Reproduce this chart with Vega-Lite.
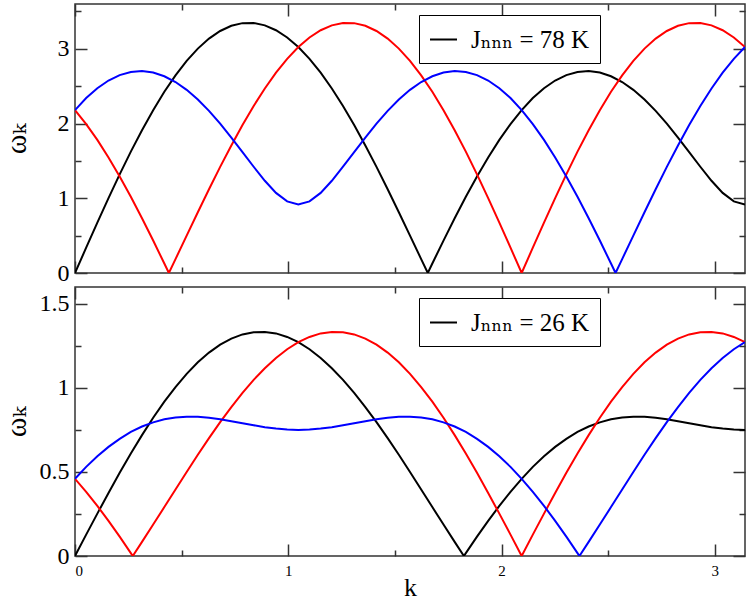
{
  "$schema": "https://vega.github.io/schema/vega-lite/v6.json",
  "padding": {"left": 0, "top": 2, "right": 3, "bottom": 0},
  "bounds": "flush",
  "config": {
    "font": "Liberation Serif, Times New Roman, DejaVu Serif, serif",
    "view": {"stroke": "#333", "strokeWidth": 1.5},
    "axis": {"grid": false, "domain": false, "tickColor": "#333", "tickWidth": 1.5, "labelColor": "#000", "titleColor": "#000", "labelFont": "Liberation Serif, Times New Roman, DejaVu Serif, serif", "titleFont": "Liberation Serif, Times New Roman, DejaVu Serif, serif", "titleFontWeight": "normal"},
    "legend": {"labelFont": "Liberation Serif, Times New Roman, DejaVu Serif, serif"},
    "concat": {"spacing": 14}
  },
  "datasets": {
    "top": [
      {"k":0,"b":0,"r":2.18,"u":2.18},
      {"k":0.05236,"b":0.339,"r":1.993,"u":2.341},
      {"k":0.10472,"b":0.674,"r":1.781,"u":2.473},
      {"k":0.15708,"b":1.002,"r":1.547,"u":2.576},
      {"k":0.20944,"b":1.32,"r":1.292,"u":2.648},
      {"k":0.2618,"b":1.624,"r":1.02,"u":2.69},
      {"k":0.31416,"b":1.911,"r":0.732,"u":2.702},
      {"k":0.36652,"b":2.179,"r":0.434,"u":2.682},
      {"k":0.41888,"b":2.425,"r":0.127,"u":2.633},
      {"k":0.44017,"r":0},
      {"k":0.47124,"b":2.645,"r":0.186,"u":2.556},
      {"k":0.5236,"b":2.839,"r":0.5,"u":2.451},
      {"k":0.57596,"b":3.003,"r":0.813,"u":2.322},
      {"k":0.62832,"b":3.137,"r":1.12,"u":2.17},
      {"k":0.68068,"b":3.239,"r":1.42,"u":1.999},
      {"k":0.73304,"b":3.308,"r":1.707,"u":1.813},
      {"k":0.7854,"b":3.344,"r":1.98,"u":1.618},
      {"k":0.83776,"b":3.346,"r":2.235,"u":1.422},
      {"k":0.89012,"b":3.314,"r":2.47,"u":1.234},
      {"k":0.94248,"b":3.249,"r":2.681,"u":1.072},
      {"k":0.99484,"b":3.152,"r":2.866,"u":0.958},
      {"k":1.0472,"b":3.024,"r":3.024,"u":0.917},
      {"k":1.09956,"b":2.866,"r":3.152,"u":0.958},
      {"k":1.15192,"b":2.681,"r":3.249,"u":1.072},
      {"k":1.20428,"b":2.47,"r":3.314,"u":1.234},
      {"k":1.25664,"b":2.235,"r":3.346,"u":1.422},
      {"k":1.309,"b":1.98,"r":3.344,"u":1.618},
      {"k":1.36136,"b":1.707,"r":3.308,"u":1.813},
      {"k":1.41372,"b":1.42,"r":3.239,"u":1.999},
      {"k":1.46608,"b":1.12,"r":3.137,"u":2.17},
      {"k":1.51844,"b":0.813,"r":3.003,"u":2.322},
      {"k":1.5708,"b":0.5,"r":2.839,"u":2.451},
      {"k":1.62316,"b":0.186,"r":2.645,"u":2.556},
      {"k":1.65423,"b":0},
      {"k":1.67552,"b":0.127,"r":2.425,"u":2.633},
      {"k":1.72788,"b":0.434,"r":2.179,"u":2.682},
      {"k":1.78024,"b":0.732,"r":1.911,"u":2.702},
      {"k":1.8326,"b":1.02,"r":1.624,"u":2.69},
      {"k":1.88496,"b":1.292,"r":1.32,"u":2.648},
      {"k":1.93732,"b":1.547,"r":1.002,"u":2.576},
      {"k":1.98968,"b":1.781,"r":0.674,"u":2.473},
      {"k":2.04204,"b":1.993,"r":0.339,"u":2.341},
      {"k":2.0944,"b":2.18,"r":0,"u":2.18},
      {"k":2.14675,"b":2.341,"r":0.339,"u":1.993},
      {"k":2.19911,"b":2.473,"r":0.674,"u":1.781},
      {"k":2.25147,"b":2.576,"r":1.002,"u":1.547},
      {"k":2.30383,"b":2.648,"r":1.32,"u":1.292},
      {"k":2.35619,"b":2.69,"r":1.624,"u":1.02},
      {"k":2.40855,"b":2.702,"r":1.911,"u":0.732},
      {"k":2.46091,"b":2.682,"r":2.179,"u":0.434},
      {"k":2.51327,"b":2.633,"r":2.425,"u":0.127},
      {"k":2.53456,"u":0},
      {"k":2.56563,"b":2.556,"r":2.645,"u":0.186},
      {"k":2.61799,"b":2.451,"r":2.839,"u":0.5},
      {"k":2.67035,"b":2.322,"r":3.003,"u":0.813},
      {"k":2.72271,"b":2.17,"r":3.137,"u":1.12},
      {"k":2.77507,"b":1.999,"r":3.239,"u":1.42},
      {"k":2.82743,"b":1.813,"r":3.308,"u":1.707},
      {"k":2.87979,"b":1.618,"r":3.344,"u":1.98},
      {"k":2.93215,"b":1.422,"r":3.346,"u":2.235},
      {"k":2.98451,"b":1.234,"r":3.314,"u":2.47},
      {"k":3.03687,"b":1.072,"r":3.249,"u":2.681},
      {"k":3.08923,"b":0.958,"r":3.152,"u":2.866},
      {"k":3.14159,"b":0.917,"r":3.024,"u":3.024}
    ],
    "bottom": [
      {"k":0,"b":0,"r":0.459,"u":0.459},
      {"k":0.05236,"b":0.127,"r":0.382,"u":0.53},
      {"k":0.10472,"b":0.252,"r":0.298,"u":0.593},
      {"k":0.15708,"b":0.375,"r":0.209,"u":0.649},
      {"k":0.20944,"b":0.495,"r":0.115,"u":0.697},
      {"k":0.2618,"b":0.61,"r":0.017,"u":0.738},
      {"k":0.27092,"r":0},
      {"k":0.31416,"b":0.719,"r":0.084,"u":0.77},
      {"k":0.36652,"b":0.822,"r":0.187,"u":0.795},
      {"k":0.41888,"b":0.918,"r":0.291,"u":0.813},
      {"k":0.47124,"b":1.005,"r":0.396,"u":0.824},
      {"k":0.5236,"b":1.083,"r":0.5,"u":0.828},
      {"k":0.57596,"b":1.152,"r":0.602,"u":0.828},
      {"k":0.62832,"b":1.21,"r":0.701,"u":0.822},
      {"k":0.68068,"b":1.257,"r":0.796,"u":0.814},
      {"k":0.73304,"b":1.293,"r":0.886,"u":0.802},
      {"k":0.7854,"b":1.318,"r":0.97,"u":0.79},
      {"k":0.83776,"b":1.331,"r":1.048,"u":0.778},
      {"k":0.89012,"b":1.333,"r":1.117,"u":0.766},
      {"k":0.94248,"b":1.324,"r":1.178,"u":0.758},
      {"k":0.99484,"b":1.303,"r":1.23,"u":0.752},
      {"k":1.0472,"b":1.272,"r":1.272,"u":0.75},
      {"k":1.09956,"b":1.23,"r":1.303,"u":0.752},
      {"k":1.15192,"b":1.178,"r":1.324,"u":0.758},
      {"k":1.20428,"b":1.117,"r":1.333,"u":0.766},
      {"k":1.25664,"b":1.048,"r":1.331,"u":0.778},
      {"k":1.309,"b":0.97,"r":1.318,"u":0.79},
      {"k":1.36136,"b":0.886,"r":1.293,"u":0.802},
      {"k":1.41372,"b":0.796,"r":1.257,"u":0.814},
      {"k":1.46608,"b":0.701,"r":1.21,"u":0.822},
      {"k":1.51844,"b":0.602,"r":1.152,"u":0.828},
      {"k":1.5708,"b":0.5,"r":1.083,"u":0.828},
      {"k":1.62316,"b":0.396,"r":1.005,"u":0.824},
      {"k":1.67552,"b":0.291,"r":0.918,"u":0.813},
      {"k":1.72788,"b":0.187,"r":0.822,"u":0.795},
      {"k":1.78024,"b":0.084,"r":0.719,"u":0.77},
      {"k":1.82348,"b":0},
      {"k":1.8326,"b":0.017,"r":0.61,"u":0.738},
      {"k":1.88496,"b":0.115,"r":0.495,"u":0.697},
      {"k":1.93732,"b":0.209,"r":0.375,"u":0.649},
      {"k":1.98968,"b":0.298,"r":0.252,"u":0.593},
      {"k":2.04204,"b":0.382,"r":0.127,"u":0.53},
      {"k":2.0944,"b":0.459,"r":0,"u":0.459},
      {"k":2.14675,"b":0.53,"r":0.127,"u":0.382},
      {"k":2.19911,"b":0.593,"r":0.252,"u":0.298},
      {"k":2.25147,"b":0.649,"r":0.375,"u":0.209},
      {"k":2.30383,"b":0.697,"r":0.495,"u":0.115},
      {"k":2.35619,"b":0.738,"r":0.61,"u":0.017},
      {"k":2.36531,"u":0},
      {"k":2.40855,"b":0.77,"r":0.719,"u":0.084},
      {"k":2.46091,"b":0.795,"r":0.822,"u":0.187},
      {"k":2.51327,"b":0.813,"r":0.918,"u":0.291},
      {"k":2.56563,"b":0.824,"r":1.005,"u":0.396},
      {"k":2.61799,"b":0.828,"r":1.083,"u":0.5},
      {"k":2.67035,"b":0.828,"r":1.152,"u":0.602},
      {"k":2.72271,"b":0.822,"r":1.21,"u":0.701},
      {"k":2.77507,"b":0.814,"r":1.257,"u":0.796},
      {"k":2.82743,"b":0.802,"r":1.293,"u":0.886},
      {"k":2.87979,"b":0.79,"r":1.318,"u":0.97},
      {"k":2.93215,"b":0.778,"r":1.331,"u":1.048},
      {"k":2.98451,"b":0.766,"r":1.333,"u":1.117},
      {"k":3.03687,"b":0.758,"r":1.324,"u":1.178},
      {"k":3.08923,"b":0.752,"r":1.303,"u":1.23},
      {"k":3.14159,"b":0.75,"r":1.272,"u":1.272}
    ]
  },
  "vconcat": [
    {
      "width": 670,
      "height": 269,
      "data": {"name": "top"},
      "transform": [{"fold": ["b", "r", "u"], "as": ["s", "w"]}, {"filter": "isValid(datum.w)"}],
      "layer": [
        {
          "mark": {"type": "line", "strokeWidth": 2, "clip": true},
          "encoding": {
            "x": {"field": "k", "type": "quantitative", "scale": {"domain": [0, 3.14159], "nice": false, "zero": false},
              "axis": {"orient": "bottom", "values": [0, 0.5, 1, 1.5, 2, 2.5, 3], "labels": false, "title": null,
                "tickSize": {"condition": {"test": "datum.value % 1 === 0", "value": -12}, "value": -6}}},
            "y": {"field": "w", "type": "quantitative", "scale": {"domain": [0, 3.6], "nice": false},
              "axis": {"orient": "left", "values": [0, 0.5, 1, 1.5, 2, 2.5, 3, 3.5], "title": "ωₖ", "titleFontSize": 30, "titlePadding": 8,
                "labelFontSize": 24, "labelPadding": 18, "minExtent": 36, "maxExtent": 36,
                "labelExpr": "datum.value % 1 === 0 ? format(datum.value, '~g') : ''",
                "tickSize": {"condition": {"test": "datum.value % 1 === 0", "value": -12}, "value": -6}}},
            "color": {"field": "s", "type": "nominal", "scale": {"domain": ["b", "r", "u"], "range": ["#000000", "#ff0000", "#0000ff"]},
              "legend": {"values": ["b"], "orient": "none", "legendX": 344, "legendY": 11, "title": null,
                "labelExpr": "'Jₙₙₙ = 78 K'", "symbolType": "stroke", "symbolSize": 729, "symbolStrokeWidth": 2,
                "labelFontSize": 25, "labelColor": "#000", "labelLimit": 400, "labelOffset": 13,
                "strokeColor": "#000", "fillColor": "#ffffff", "padding": 10, "cornerRadius": 0}}
          }
        },
        {
          "mark": {"type": "line", "opacity": 0},
          "encoding": {
            "x": {"field": "k", "type": "quantitative",
              "axis": {"orient": "top", "values": [0, 0.5, 1, 1.5, 2, 2.5, 3], "labels": false, "title": null,
                "tickSize": {"condition": {"test": "datum.value % 1 === 0", "value": -12}, "value": -6}}},
            "y": {"field": "w", "type": "quantitative",
              "axis": {"orient": "right", "values": [0, 0.5, 1, 1.5, 2, 2.5, 3, 3.5], "labels": false, "title": null,
                "tickSize": {"condition": {"test": "datum.value % 1 === 0", "value": -12}, "value": -6}}},
            "detail": {"field": "s"}
          }
        }
      ],
      "resolve": {"axis": {"x": "independent", "y": "independent"}}
    },
    {
      "width": 670,
      "height": 269,
      "data": {"name": "bottom"},
      "transform": [{"fold": ["b", "r", "u"], "as": ["s", "w"]}, {"filter": "isValid(datum.w)"}],
      "layer": [
        {
          "mark": {"type": "line", "strokeWidth": 2, "clip": true},
          "encoding": {
            "x": {"field": "k", "type": "quantitative", "scale": {"domain": [0, 3.14159], "nice": false, "zero": false},
              "axis": {"orient": "bottom", "values": [0, 0.5, 1, 1.5, 2, 2.5, 3], "title": "k", "titleFontSize": 26, "titlePadding": -4,
                "labelFontSize": 15, "labelPadding": 19,
                "labelExpr": "datum.value % 1 === 0 ? format(datum.value, '~g') : ''",
                "tickSize": {"condition": {"test": "datum.value % 1 === 0", "value": -12}, "value": -6}}},
            "y": {"field": "w", "type": "quantitative", "scale": {"domain": [0, 1.6], "nice": false},
              "axis": {"orient": "left", "values": [0, 0.25, 0.5, 0.75, 1, 1.25, 1.5], "title": "ωₖ", "titleFontSize": 30, "titlePadding": 8,
                "labelFontSize": 24, "labelPadding": 18, "minExtent": 36, "maxExtent": 36,
                "labelExpr": "abs(datum.value * 2 - round(datum.value * 2)) < 0.001 ? format(datum.value, '~g') : ''",
                "tickSize": {"condition": {"test": "abs(datum.value * 2 - round(datum.value * 2)) < 0.001", "value": -12}, "value": -6}}},
            "color": {"field": "s", "type": "nominal", "scale": {"domain": ["b", "r", "u"], "range": ["#000000", "#ff0000", "#0000ff"]},
              "legend": {"values": ["b"], "orient": "none", "legendX": 344, "legendY": 11, "title": null,
                "labelExpr": "'Jₙₙₙ = 26 K'", "symbolType": "stroke", "symbolSize": 729, "symbolStrokeWidth": 2,
                "labelFontSize": 25, "labelColor": "#000", "labelLimit": 400, "labelOffset": 13,
                "strokeColor": "#000", "fillColor": "#ffffff", "padding": 10, "cornerRadius": 0}}
          }
        },
        {
          "mark": {"type": "line", "opacity": 0},
          "encoding": {
            "x": {"field": "k", "type": "quantitative",
              "axis": {"orient": "top", "values": [0, 0.5, 1, 1.5, 2, 2.5, 3], "labels": false, "title": null,
                "tickSize": {"condition": {"test": "datum.value % 1 === 0", "value": -12}, "value": -6}}},
            "y": {"field": "w", "type": "quantitative",
              "axis": {"orient": "right", "values": [0, 0.25, 0.5, 0.75, 1, 1.25, 1.5], "labels": false, "title": null,
                "tickSize": {"condition": {"test": "abs(datum.value * 2 - round(datum.value * 2)) < 0.001", "value": -12}, "value": -6}}},
            "detail": {"field": "s"}
          }
        }
      ],
      "resolve": {"axis": {"x": "independent", "y": "independent"}}
    }
  ],
  "resolve": {"scale": {"y": "independent", "color": "independent"}}
}
